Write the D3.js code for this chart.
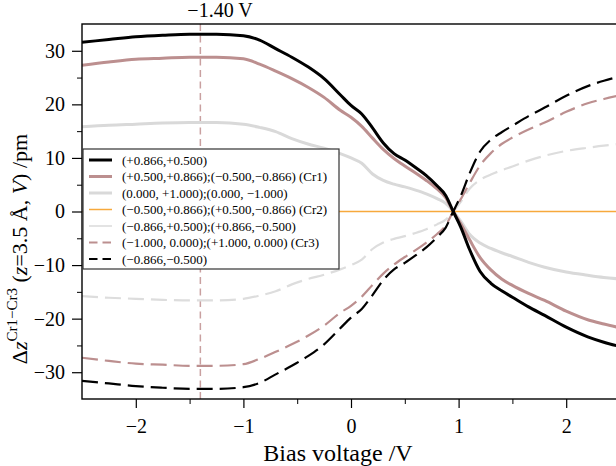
<!DOCTYPE html>
<html><head><meta charset="utf-8">
<script src="https://cdn.jsdelivr.net/npm/d3@7"></script>
<style>
body{margin:0;background:#fff}
svg{display:block}
text{font-family:"Liberation Serif","Times New Roman",serif;fill:#000}
</style>
</head><body><svg id="c" width="616" height="466"></svg>
<script>
// ---------------- data ----------------
const voltages = [-2.5,-2.25,-2.0,-1.75,-1.5,-1.4,-1.25,-1.0,-0.85,-0.7,-0.55,-0.4,-0.25,-0.1,0.0,0.1,0.2,0.3,0.4,0.5,0.6,0.7,0.8,0.88,0.95,1.02,1.1,1.2,1.3,1.4,1.5,1.65,1.8,2.0,2.2,2.35,2.5];

const dz_p866_p500 = [31.6,32.1,32.6,32.9,33.1,33.1,33.1,32.8,32.0,30.4,28.8,27.0,24.8,21.8,19.8,18.2,15.6,12.8,10.8,9.6,8.2,6.7,4.8,3.0,0.0,-2.9,-7.0,-11.2,-13.4,-14.8,-16.0,-17.8,-19.4,-21.6,-23.4,-24.4,-25.2];
const dz_p500_p866 = [27.3,27.9,28.4,28.6,28.8,28.8,28.8,28.5,27.5,26.2,24.8,23.2,21.3,18.9,17.6,15.9,13.7,11.6,9.9,8.5,7.2,5.8,4.2,2.6,0.0,-2.3,-5.2,-8.6,-10.9,-12.6,-13.8,-15.3,-16.6,-18.6,-20.2,-21.0,-21.7];
const dz_0_p1000 = [15.8,16.1,16.3,16.5,16.6,16.6,16.6,16.3,15.7,14.9,13.6,12.6,11.8,10.8,10.0,9.0,7.0,5.8,5.1,4.6,4.0,3.3,2.4,1.5,0.0,-1.8,-4.2,-5.9,-6.9,-7.7,-8.4,-9.5,-10.4,-11.3,-11.9,-12.3,-12.6];
const dz_m500_p866 = [0,0,0,0,0,0,0,0,0,0,0,0,0,0,0,0,0,0,0,0,0,0,0,0,0,0,0,0,0,0,0,0,0,0,0,0,0];
const dz_m866_p500 = [-15.8,-16.1,-16.3,-16.5,-16.6,-16.6,-16.6,-16.3,-15.7,-14.9,-13.6,-12.6,-11.8,-10.8,-10.0,-9.0,-7.0,-5.8,-5.1,-4.6,-4.0,-3.3,-2.4,-1.5,0.0,1.8,4.2,5.9,6.9,7.7,8.4,9.5,10.4,11.3,11.9,12.3,12.6];
const dz_m1000_0 = [-27.3,-27.9,-28.4,-28.6,-28.8,-28.8,-28.8,-28.5,-27.5,-26.2,-24.8,-23.2,-21.3,-18.9,-17.6,-15.9,-13.7,-11.6,-9.9,-8.5,-7.2,-5.8,-4.2,-2.6,0.0,2.3,5.2,8.6,10.9,12.6,13.8,15.3,16.6,18.6,20.2,21.0,21.7];
const dz_m866_m500 = [-31.6,-32.1,-32.6,-32.9,-33.1,-33.1,-33.1,-32.8,-32.0,-30.4,-28.8,-27.0,-24.8,-21.8,-19.8,-18.2,-15.6,-12.8,-10.8,-9.6,-8.2,-6.7,-4.8,-3.0,0.0,2.9,7.0,11.2,13.4,14.8,16.0,17.8,19.4,21.6,23.4,24.4,25.2];

const seriesLabels = [
  "(+0.866,+0.500)",
  "(+0.500,+0.866);(\u22120.500,\u22120.866) (Cr1)",
  "(0.000, +1.000);(0.000, \u22121.000)",
  "(\u22120.500,+0.866);(+0.500,\u22120.866) (Cr2)",
  "(\u22120.866,+0.500);(+0.866,\u22120.500)",
  "(\u22121.000, 0.000);(+1.000, 0.000) (Cr3)",
  "(\u22120.866,\u22120.500)"
];
const seriesValues = [dz_p866_p500, dz_p500_p866, dz_0_p1000, dz_m500_p866, dz_m866_p500, dz_m1000_0, dz_m866_m500];

const markerVoltage = -1.40;
const markerLabel = "\u22121.40 V";
const xTicks = [-2,-1,0,1,2];
const xMinorTicks = [-1.5,-0.5,0.5,1.5];
const yTicks = [-30,-20,-10,0,10,20,30];
const yMinorTicks = [-25,-15,-5,5,15,25];

// ---------------- styles ----------------
const styles = [
  {color:"#000000", width:3,   dash:null,   legWidth:3,   legDash:null,  legColor:"#000000"},
  {color:"#bc8f8f", width:3,   dash:null,   legWidth:3,   legDash:null,  legColor:"#bc8f8f"},
  {color:"#d9d9d9", width:3,   dash:null,   legWidth:3,   legDash:null,  legColor:"#d9d9d9"},
  {color:"#f7a93c", width:1.5, dash:null,   legWidth:1.5, legDash:null,  legColor:"#f7a93c"},
  {color:"#dddddd", width:2.2, dash:"16,7", legWidth:1.6, legDash:null,  legColor:"#dddddd"},
  {color:"#bc8f8f", width:2.2, dash:"16,7", legWidth:2.2, legDash:"8.5,5", legColor:"#bc8f8f"},
  {color:"#000000", width:2.2, dash:"16,7", legWidth:2.2, legDash:"8.5,5", legColor:"#000000"}
];

const svg = d3.select("#c");
const L = 82, T = 24, R = 620, B = 399;
const x = d3.scaleLinear().domain([-2.5, 2.5]).range([L, R]);
const y = d3.scaleLinear().domain([-35, 35]).range([B, T]);

svg.append("clipPath").attr("id","clip").append("rect")
  .attr("x", L).attr("y", T).attr("width", R - L).attr("height", B - T);

const plot = svg.append("g").attr("clip-path","url(#clip)");

// marker line
plot.append("line")
  .attr("x1", x(markerVoltage)).attr("x2", x(markerVoltage))
  .attr("y1", T).attr("y2", B)
  .attr("stroke", "#c9a0a0").attr("stroke-width", 1.5).attr("stroke-dasharray", "7,4.5");

const line = d3.line().x(d => x(d[0])).y(d => y(d[1])).curve(d3.curveMonotoneX);

// draw order
const order = [4, 2, 3, 5, 1, 6, 0];
order.forEach(i => {
  const pts = voltages.map((v, k) => [v, seriesValues[i][k]]);
  const p = plot.append("path").attr("d", line(pts))
    .attr("fill","none").attr("stroke", styles[i].color)
    .attr("stroke-width", styles[i].width).attr("stroke-linejoin","round");
  if (styles[i].dash) p.attr("stroke-dasharray", styles[i].dash);
});

// axes
const xAxis = d3.axisBottom(x).tickValues(xTicks).tickSize(9).tickPadding(11)
  .tickFormat(d3.format("d"));
const gx = svg.append("g").attr("transform", `translate(0,${B})`).call(xAxis);
gx.select(".domain").remove();
gx.selectAll("text").style("font-size","20px").style("font-family",'"Liberation Serif","Times New Roman",serif');
gx.selectAll("line").attr("stroke","#000").attr("stroke-width",1.2);
const gxm = svg.append("g").attr("transform", `translate(0,${B})`)
  .call(d3.axisBottom(x).tickValues(xMinorTicks).tickSize(5).tickFormat(""));
gxm.select(".domain").remove();
gxm.selectAll("line").attr("stroke","#000").attr("stroke-width",1);

const yAxis = d3.axisLeft(y).tickValues(yTicks).tickSize(10).tickPadding(7)
  .tickFormat(d3.format("d"));
const gy = svg.append("g").attr("transform", `translate(${L},0)`).call(yAxis);
gy.select(".domain").remove();
gy.selectAll("text").style("font-size","20px").style("font-family",'"Liberation Serif","Times New Roman",serif');
gy.selectAll("line").attr("stroke","#000").attr("stroke-width",1.2);
const gym = svg.append("g").attr("transform", `translate(${L},0)`)
  .call(d3.axisLeft(y).tickValues(yMinorTicks).tickSize(5).tickFormat(""));
gym.select(".domain").remove();
gym.selectAll("line").attr("stroke","#000").attr("stroke-width",1);

// frame
svg.append("rect").attr("x", L).attr("y", T).attr("width", R - L).attr("height", B - T)
  .attr("fill","none").attr("stroke","#000").attr("stroke-width",1.4);

// marker label
svg.append("text").attr("x", x(markerVoltage) - 13).attr("y", 17)
  .style("font-size","20px").text(markerLabel);

// x title
svg.append("text").attr("x", 338).attr("y", 461).attr("text-anchor","middle")
  .style("font-size","24px").text("Bias voltage /V");

// y title
const yt = svg.append("text").attr("transform","translate(27,249) rotate(-90)")
  .attr("text-anchor","middle").style("font-size","22px");
yt.append("tspan").text("\u0394");
yt.append("tspan").style("font-style","italic").text("z");
yt.append("tspan").attr("dy",-10).style("font-size","15px").text("Cr1\u2212Cr3");
yt.append("tspan").attr("dy",10).text(" (");
yt.append("tspan").style("font-style","italic").text("z");
yt.append("tspan").text("=3.5 \u00c5, ");
yt.append("tspan").style("font-style","italic").text("V");
yt.append("tspan").text(") /pm");

// legend
const lg = svg.append("g");
const lgX = 83, lgY = 149, lgW = 256, lgH = 120, rowH = 16.5;
lg.append("rect").attr("x", lgX).attr("y", lgY).attr("width", lgW).attr("height", lgH)
  .attr("fill","#fff").attr("stroke","#333").attr("stroke-width",1.2);
seriesLabels.forEach((lab, i) => {
  const cy = lgY + 11 + i * rowH;
  const ln = lg.append("line").attr("x1", lgX + 6).attr("x2", lgX + 29)
    .attr("y1", cy).attr("y2", cy)
    .attr("stroke", styles[i].legColor).attr("stroke-width", styles[i].legWidth);
  if (styles[i].legDash) ln.attr("stroke-dasharray", styles[i].legDash);
  lg.append("text").attr("x", lgX + 39).attr("y", cy + 4.5)
    .style("font-size","13px").text(lab);
});
</script>
</body></html>
